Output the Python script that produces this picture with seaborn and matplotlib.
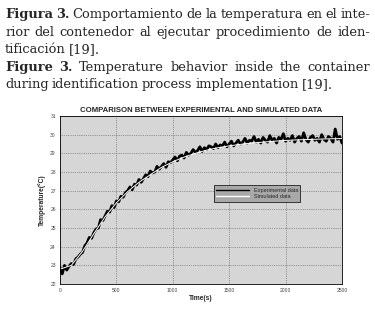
import numpy as np
import pandas as pd
import seaborn as sns
import matplotlib.pyplot as plt

exp_temp = [22.9, 22.55, 23.0, 22.75, 22.95, 23.1, 23.05, 23.35, 23.45, 23.6,
            23.7, 24.05, 24.2, 24.5, 24.45, 24.75, 24.95, 25.0, 25.45, 25.4,
            25.65, 25.9, 25.85, 26.2, 26.1, 26.45, 26.4, 26.7, 26.65, 26.9,
            27.0, 27.2, 27.05, 27.35, 27.3, 27.6, 27.45, 27.65, 27.85, 27.75,
            28.05, 27.95, 28.0, 28.3, 28.15, 28.3, 28.45, 28.25, 28.55, 28.5,
            28.65, 28.8, 28.6, 28.85, 28.9, 28.75, 29.05, 28.9, 29.0, 29.2,
            29.05, 29.15, 29.35, 29.1, 29.3, 29.2, 29.4, 29.35, 29.25, 29.5,
            29.3, 29.45, 29.4, 29.6, 29.35, 29.5, 29.65, 29.4, 29.55, 29.7,
            29.5, 29.6, 29.8, 29.55, 29.7, 29.65, 29.9, 29.6, 29.75, 29.55,
            29.85, 29.7, 29.6, 29.95, 29.7, 29.8, 29.55, 29.85, 29.75, 30.05,
            29.65, 29.8, 29.7, 29.95, 29.6, 29.8, 29.9, 29.65, 30.1, 29.75,
            29.6, 29.85, 29.95, 29.7, 29.8, 29.6, 30.0, 29.75, 29.65, 29.9,
            29.8, 29.6, 30.3, 29.75, 29.9, 29.55]
exp_time = np.arange(0, 20 * len(exp_temp), 20)

# simulated model response every 100 s
sim_time = list(range(0, 2501, 100))
sim_temp = [22.8, 23.0, 23.75, 24.7, 25.6, 26.35, 26.95, 27.45, 27.85, 28.25,
            28.55, 28.8, 29.0, 29.17, 29.3, 29.4, 29.48, 29.55, 29.6, 29.65,
            29.69, 29.72, 29.74, 29.76, 29.78, 29.79]

df_exp = pd.DataFrame({"t": exp_time, "T": exp_temp})
df_sim = pd.DataFrame({"t": sim_time, "T": sim_temp})

sns.set_style("whitegrid")
plt.rcParams["font.family"] = ["Liberation Sans", "DejaVu Sans"]

fig = plt.figure(figsize=(3.75, 3.16), dpi=100)
ax = fig.add_axes([0.16, 0.101, 0.752, 0.532])
ax.set_facecolor("#d6d6d6")

sns.lineplot(data=df_exp, x="t", y="T", ax=ax, color="black", lw=2.0,
             label="Experimental data")
sns.lineplot(data=df_sim, x="t", y="T", ax=ax, color="white", lw=0.7,
             label="Simulated data")

ax.set_xlim(0, 2500)
ax.set_ylim(22, 31)
ax.set_xticks(range(0, 2501, 500))
ax.set_yticks(range(22, 32))
ax.grid(True, color="#555555", ls=":", lw=0.5)
for s in ax.spines.values():
    s.set_color("black")
    s.set_linewidth(0.6)
ax.tick_params(labelsize=3.6, colors="#444444", length=1.5, pad=1.5)
ax.set_xlabel("Time(s)", fontsize=4.8, fontweight="bold", labelpad=1)
ax.set_ylabel("Temperature(°C)", fontsize=4.8, fontweight="bold", labelpad=3)
ax.set_title("COMPARISON BETWEEN EXPERIMENTAL AND SIMULATED DATA",
             fontsize=5.6, fontweight="bold", pad=3)
leg = ax.legend(loc="upper left", bbox_to_anchor=(0.535, 0.603), fontsize=4,
                frameon=True, facecolor="#a8a8a8", edgecolor="black",
                fancybox=False, framealpha=1, handlelength=6,
                borderpad=0.4, labelspacing=0.3)
leg.get_frame().set_linewidth(0.5)
for line in leg.get_lines():
    line.set_linewidth(1.0)

# caption above the chart, justified like the original page
renderer = fig.canvas.get_renderer()
CAP_SIZE = 9.4


def caption_line(words, base_px, justify=True, x0=5, x1=370):
    texts = []
    for w, bold in words:
        t = fig.text(0, 1 - base_px / 316, w, family="DejaVu Serif",
                     fontsize=CAP_SIZE, fontweight="bold" if bold else "normal",
                     va="baseline", ha="left")
        texts.append(t)
    widths = [t.get_window_extent(renderer).width for t in texts]
    if justify:
        gap = (x1 - x0 - sum(widths)) / (len(words) - 1)
    else:
        gap = CAP_SIZE * 0.32
    x = x0
    for t, w in zip(texts, widths):
        t.set_x(x / 375)
        x += w + gap


caption_line([("Figura", True), ("3.", True), ("Comportamiento", False),
              ("de", False), ("la", False), ("temperatura", False),
              ("en", False), ("el", False), ("inte-", False)], 18)
caption_line([("rior", False), ("del", False), ("contenedor", False),
              ("al", False), ("ejecutar", False), ("procedimiento", False),
              ("de", False), ("iden-", False)], 36)
caption_line([("tificación", False), ("[19].", False)], 53, justify=False)
caption_line([("Figure", True), ("3.", True), ("Temperature", False),
              ("behavior", False), ("inside", False), ("the", False),
              ("container", False)], 71)
caption_line([("during", False), ("identification", False),
              ("process", False), ("implementation", False),
              ("[19].", False)], 88, justify=False)

fig.savefig("out.png", dpi=100)
